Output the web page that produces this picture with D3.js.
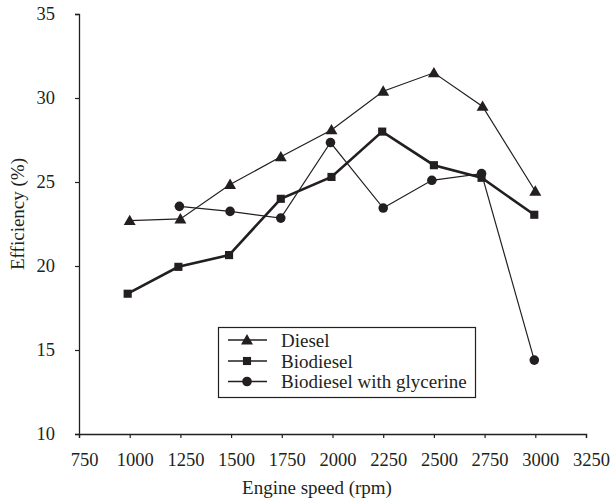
<!DOCTYPE html>
<html><head><meta charset="utf-8">
<script src="https://d3js.org/d3.v7.min.js"></script>
<style>body{margin:0;background:#fff}svg{display:block}text{font-family:"Liberation Serif","Times New Roman",serif;fill:#231f20}</style>
</head><body><svg id="c" width="613" height="503"></svg>
<script>
const xTicks=[750,1000,1250,1500,1750,2000,2250,2500,2750,3000,3250];
const yTicks=[10,15,20,25,30,35];
const dieselX=[1000,1250,1495,1745,1995,2250,2500,2740,3000];
const dieselY=[22.7,22.8,24.85,26.5,28.1,30.4,31.5,29.5,24.45];
const bioX=[990,1240,1490,1745,1995,2245,2500,2735,2995];
const bioY=[18.35,19.95,20.65,24.0,25.3,28.0,26.0,25.25,23.05];
const glyX=[1245,1495,1745,1990,2250,2490,2735,2995];
const glyY=[23.55,23.25,22.85,27.35,23.45,25.1,25.5,14.4];
const seriesNames=["Diesel","Biodiesel","Biodiesel with glycerine"];

const ink="#231f20";
const svg=d3.select("#c");
const x=d3.scaleLinear().domain([750,3250]).range([79,586]);
const y=d3.scaleLinear().domain([10,35]).range([434,14]);

const xa=svg.append("g").attr("transform","translate(0,434)")
 .call(d3.axisBottom(x).tickValues(xTicks).tickSize(4).tickPadding(15).tickFormat(d3.format("d")));
xa.selectAll(".tick text").attr("dx",5);
const ya=svg.append("g").attr("transform","translate(79,0)")
 .call(d3.axisLeft(y).tickValues(yTicks).tickSize(4).tickPadding(20));
[xa,ya].forEach(a=>{a.select(".domain").attr("stroke",ink).attr("stroke-width",1.3);
 a.selectAll(".tick line").attr("stroke",ink).attr("stroke-width",1.2);
 a.selectAll("text").style("font-family","Liberation Serif").style("font-size","18.5px").attr("fill",ink);});

svg.append("text").attr("x",317).attr("y",494).attr("text-anchor","middle").style("font-size","19px").text("Engine speed (rpm)");
svg.append("text").attr("transform","translate(24,214) rotate(-90)").attr("text-anchor","middle").style("font-size","19px").text("Efficiency (%)");

const series=[
 {xs:dieselX,ys:dieselY,w:1.2,m:"tri"},
 {xs:bioX,ys:bioY,w:2.6,m:"sq"},
 {xs:glyX,ys:glyY,w:1.2,m:"cir"}];
const line=d3.line().x(d=>x(d[0])).y(d=>y(d[1]));
const symTri=d3.symbol().type(d3.symbolTriangle).size(62)();
const symSq=d3.symbol().type(d3.symbolSquare).size(66)();
function marker(g,type,cx,cy){
 if(type==="cir") g.append("circle").attr("cx",cx).attr("cy",cy).attr("r",4.8).attr("fill",ink);
 else g.append("path").attr("d",type==="tri"?symTri:symSq).attr("transform",`translate(${cx},${cy+(type==="tri"?1:0)})`).attr("fill",ink);
}
series.forEach(s=>{
 const pts=s.xs.map((v,i)=>[v,s.ys[i]]);
 svg.append("path").datum(pts).attr("d",line).attr("fill","none").attr("stroke",ink).attr("stroke-width",s.w);
 const g=svg.append("g");
 pts.forEach(p=>marker(g,s.m,x(p[0]),y(p[1])));
});

const lg=svg.append("g");
lg.append("rect").attr("x",218.5).attr("y",327.5).attr("width",257).attr("height",70).attr("fill","#fff").attr("stroke",ink).attr("stroke-width",1.2);
const rows=[340,361,381.5];
series.forEach((s,i)=>{
 lg.append("line").attr("x1",228).attr("x2",267).attr("y1",rows[i]).attr("y2",rows[i]).attr("stroke",ink).attr("stroke-width",1.3);
 marker(lg,s.m,247,rows[i]);
 lg.append("text").attr("x",281).attr("y",rows[i]).attr("dy","0.35em").style("font-size","19px").text(seriesNames[i]);
});
</script></body></html>
